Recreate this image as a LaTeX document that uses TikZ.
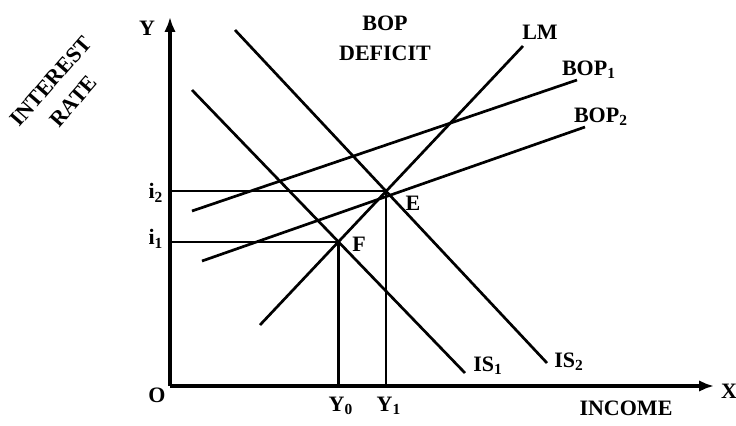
\documentclass[tikz,border=0pt]{standalone}
\usepackage{fontspec}
\setmainfont{Liberation Serif}
\usetikzlibrary{arrows.meta}

\begin{document}
\begin{tikzpicture}[
  x=0.5pt, y=-0.5pt,
  curve/.style = {line width=1.35pt},
  guide/.style = {line width=1.2pt},
  axis/.style  = {line width=1.6pt, -{Latex[length=2.6mm,width=2mm]}},
  lbl/.style   = {font=\fontsize{11}{15}\selectfont\bfseries, inner sep=1pt, align=center}
]
  \useasboundingbox (0,0) rectangle (736,425);

  % axes
  \coordinate (O)    at (170,386);
  \coordinate (ytip) at (170,17);
  \coordinate (xtip) at (714,386);
  \draw[axis] (O) -- (ytip);
  \draw[axis] (O) -- (xtip);
  \node[lbl] (ylab) at (147,28)  {Y};
  \node[lbl] (xlab) at (729,391) {X};
  \node[lbl] (olab) at (157,395) {O};
  \node[lbl, rotate=49] (rate) at (62,91) {INTEREST\\RATE};
  \node[lbl] (inc) at (626,408) {INCOME};
  \node[lbl] (bop) at (385,38) {BOP\\DEFICIT};

  % curve end points
  \coordinate (lmA)  at (260,325);  \coordinate (lmB)  at (523,46);
  \coordinate (b1A)  at (192,211);  \coordinate (b1B)  at (577,80);
  \coordinate (b2A)  at (202,261);  \coordinate (b2B)  at (585,127);
  \coordinate (is1A) at (192,90);   \coordinate (is1B) at (465,373);
  \coordinate (is2A) at (235,30);   \coordinate (is2B) at (547,363);

  \foreach \a/\b in {lmA/lmB,b1A/b1B,b2A/b2B,is1A/is1B,is2A/is2B}
    \draw[curve] (\a) -- (\b);

  \coordinate (E) at (intersection of lmA--lmB and is2A--is2B);
  \coordinate (F) at (intersection of lmA--lmB and is1A--is1B);

  % guide lines
  \draw[guide] (E -| O) -- (E) -- (E |- O);
  \draw[guide] (F -| O) -- (F) -- (F |- O);

  \node[lbl] (lml)  at (540,32)  {LM};
  \node[lbl] (b1l)  at (589,70)  {BOP\textsubscript{1}};
  \node[lbl] (b2l)  at (601,117) {BOP\textsubscript{2}};
  \node[lbl] (is1l) at (488,366) {IS\textsubscript{1}};
  \node[lbl] (is2l) at (569,362) {IS\textsubscript{2}};
  \node[lbl] (el)   at (413,203) {E};
  \node[lbl] (fl)   at (359,244) {F};
  \node[lbl] (i2l)  at (156,193) {i\textsubscript{2}};
  \node[lbl] (i1l)  at (156,239) {i\textsubscript{1}};
  \node[lbl] (y0l)  at (341,406) {Y\textsubscript{0}};
  \node[lbl] (y1l)  at (389,406) {Y\textsubscript{1}};
\end{tikzpicture}
\end{document}
